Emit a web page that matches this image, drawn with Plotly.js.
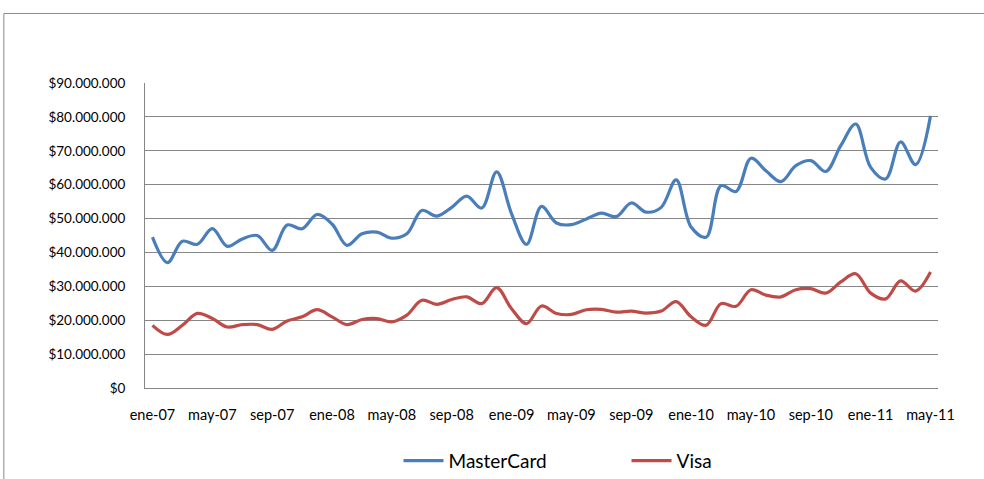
<!DOCTYPE html>
<html>
<head>
<meta charset="utf-8">
<script src="https://cdn.plot.ly/plotly-3.0.1.min.js"></script>
<style>html,body{margin:0;padding:0;background:#fff;}#chart{width:984px;height:479px;}</style>
</head>
<body>
<div id="chart"></div>
<script>
var months = ['ene-07','feb-07','mar-07','abr-07','may-07','jun-07','jul-07','ago-07','sep-07','oct-07','nov-07','dic-07',
'ene-08','feb-08','mar-08','abr-08','may-08','jun-08','jul-08','ago-08','sep-08','oct-08','nov-08','dic-08',
'ene-09','feb-09','mar-09','abr-09','may-09','jun-09','jul-09','ago-09','sep-09','oct-09','nov-09','dic-09',
'ene-10','feb-10','mar-10','abr-10','may-10','jun-10','jul-10','ago-10','sep-10','oct-10','nov-10','dic-10',
'ene-11','feb-11','mar-11','abr-11','may-11'];

var mastercard = [44.5,37.0,43.3,42.4,47.0,41.8,44.0,45.0,40.6,48.1,47.0,51.2,
48.4,42.1,45.5,46.0,44.2,45.5,52.4,50.7,53.3,56.6,53.1,63.8,
51.4,42.4,53.6,48.7,48.2,49.9,51.6,50.6,54.6,51.9,53.3,61.4,
47.5,44.5,59.7,58.0,67.8,64.1,60.9,65.6,67.1,63.9,71.5,77.9,
65.1,61.7,72.6,65.9,80.3];

var visa = [18.5,15.8,18.5,22.0,20.5,18.0,18.7,18.7,17.3,19.8,21.0,23.1,
21.0,18.7,20.2,20.5,19.5,21.5,25.9,24.7,26.1,26.9,24.9,29.6,
23.4,19.0,24.2,22.0,21.7,23.1,23.2,22.4,22.7,22.1,22.7,25.5,
21.0,18.5,24.9,24.1,29.0,27.4,26.9,29.0,29.3,28.0,31.3,33.7,
28.0,26.3,31.6,28.6,34.2];

var tickLabels = ['ene-07','may-07','sep-07','ene-08','may-08','sep-08','ene-09','may-09','sep-09','ene-10','may-10','sep-10','ene-11','may-11'];

var million = 1000000;
function scale(arr){ return arr.map(function(v){ return v*million; }); }

var traces = [
  {x: months, y: scale(mastercard), name: 'MasterCard', type: 'scatter', mode: 'lines',
   line: {color: '#4A7EBB', width: 3.2, shape: 'spline', smoothing: 1}},
  {x: months, y: scale(visa), name: 'Visa', type: 'scatter', mode: 'lines',
   line: {color: '#BE4B48', width: 3.2, shape: 'spline', smoothing: 1}}
];

var layout = {
  width: 984, height: 479,
  margin: {l: 145, r: 46, t: 83, b: 91, autoexpand: false},
  paper_bgcolor: '#fff', plot_bgcolor: '#fff',
  separators: ',.',
  font: {family: 'Lato, "Open Sans", sans-serif', color: '#000', size: 13},
  showlegend: true,
  legend: {orientation: 'h', xref: 'container', yref: 'container', x: 0.405, xanchor: 'left', y: 0.038, yanchor: 'middle',
           font: {size: 19, color: '#000'}, itemwidth: 40, entrywidth: 173, entrywidthmode: 'pixels', tracegroupgap: 0},
  xaxis: {type: 'category', range: [-0.5, 52.5], tickmode: 'array', tickvals: tickLabels, ticktext: tickLabels,
          showgrid: false, showline: true, linecolor: '#868686', linewidth: 1, ticks: '',
          ticklabelstandoff: 14, tickfont: {size: 14.5}, zeroline: false, fixedrange: true},
  yaxis: {range: [0, 90000000], dtick: 10000000, tickprefix: '$', tickformat: ',.0f',
          showgrid: true, gridcolor: '#868686', gridwidth: 1, showline: true, linecolor: '#868686', linewidth: 1,
          ticks: '', ticklabelstandoff: 16, zeroline: false, tickfont: {size: 13.5}, fixedrange: true},
  shapes: [
    {type: 'rect', xref: 'paper', yref: 'paper', x0: -0.178, x1: 1.2, y0: -0.4, y1: 1.228,
     line: {color: '#8a8a8a', width: 1}, fillcolor: 'rgba(0,0,0,0)', layer: 'below'}
  ]
};

Plotly.newPlot('chart', traces, layout, {displayModeBar: false, staticPlot: true});
</script>
</body>
</html>
